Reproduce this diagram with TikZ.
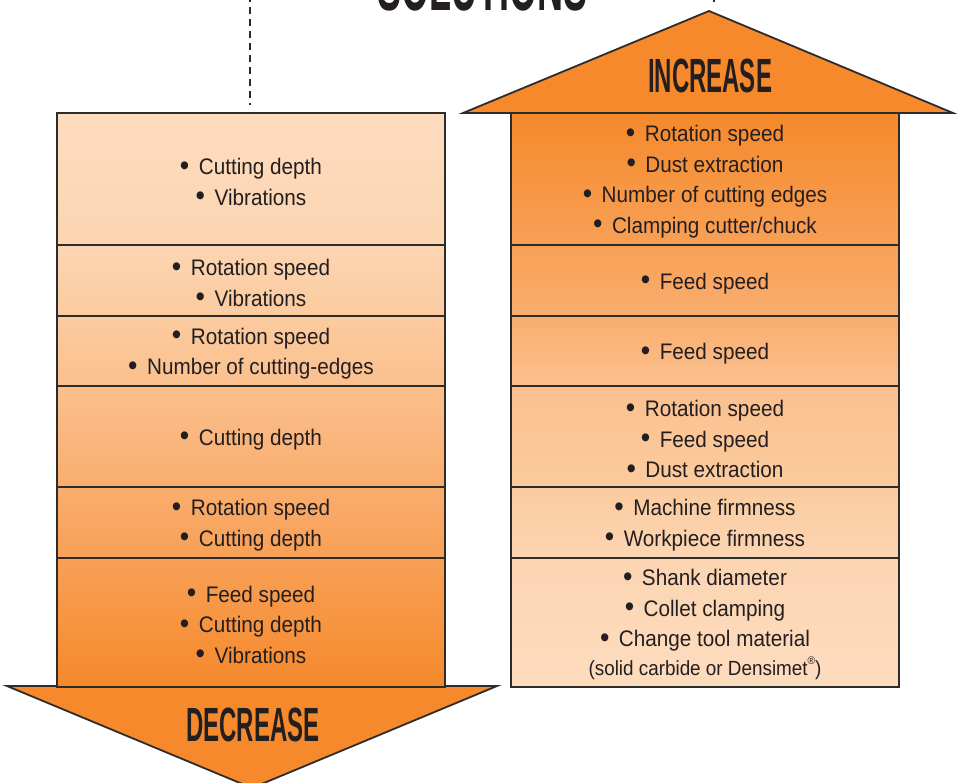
\documentclass[tikz,border=0pt]{standalone}
\usepackage{fontspec}
\usepackage{graphicx}
\setmainfont{Liberation Sans}[FakeStretch=0.92]
\newfontfamily\titlefont{Liberation Sans}[FakeStretch=0.5]
\newcommand\bul{\raisebox{-0.02em}{\scalebox{1.3}{•}}\hspace{0.42em}}
\definecolor{ink}{HTML}{231F20}
\definecolor{edge}{HTML}{2E2B2B}
\definecolor{arrowor}{HTML}{F5892B}
\definecolor{cA}{HTML}{FDDCBE}
\definecolor{cB}{HTML}{FCD5B2}
\definecolor{cC}{HTML}{FBCB9F}
\definecolor{cD}{HTML}{FBC08E}
\definecolor{cE}{HTML}{F9AD6E}
\definecolor{cF}{HTML}{F8A056}
\definecolor{cG}{HTML}{F5892B}
\tikzset{
  rowbox/.style={draw=edge, line width=1.6pt, minimum width=388pt, inner sep=0pt},
  rowtext/.style={align=center, text=ink, inner sep=0pt, font=\fontsize{22.5}{30.5}\selectfont},
  arrowhead/.style={fill=arrowor, draw=edge, line width=1.8pt, line join=miter},
  titletext/.style={text=ink, font=\titlefont\bfseries\fontsize{48}{48}\selectfont, inner sep=0pt, anchor=base},
  dashline/.style={draw=edge, line width=2pt, dash pattern=on 7pt off 5pt}
}
\begin{document}
\begin{tikzpicture}[x=1pt,y=-1pt]
\useasboundingbox (0,0) rectangle (957,783);
\clip (0,0) rectangle (957,783);
% title
\node[titletext, font=\titlefont\bfseries\fontsize{72}{72}\selectfont] (sol) at (482,11) {SOLUTIONS};
% dashed leaders
\coordinate (dl1) at (250,-5);
\coordinate (dl2) at (250,105);
\coordinate (dr1) at (714,-5);
\coordinate (dr2) at (714,5);
\draw[dashline] (dl1) -- (dl2);
\draw[dashline] (dr1) -- (dr2);
% arrow heads
\coordinate (ua1) at (463,113);
\coordinate (ua2) at (953,113);
\coordinate (ua3) at (709,11);
\draw[arrowhead] (ua1) -- (ua2) -- (ua3) -- cycle;
\coordinate (da1) at (7,686);
\coordinate (da2) at (497,686);
\coordinate (da3) at (252,788);
\draw[arrowhead] (da1) -- (da2) -- (da3) -- cycle;
\node[titletext] (inc) at (710,93) {INCREASE};
\node[titletext] (dec) at (253,741) {DECREASE};
% left column (decrease)
\node[rowbox, minimum height=132pt, top color=cA, bottom color=cB] (L1) at (251,179) {};
\node[rowbox, minimum height=71pt, top color=cB, bottom color=cC] (L2) at (251,280.5) {};
\node[rowbox, minimum height=70pt, top color=cC, bottom color=cD] (L3) at (251,351) {};
\node[rowbox, minimum height=101pt, top color=cD, bottom color=cE] (L4) at (251,436.5) {};
\node[rowbox, minimum height=71pt, top color=cE, bottom color=cF] (L5) at (251,522.5) {};
\node[rowbox, minimum height=129pt, top color=cF, bottom color=cG] (L6) at (251,622.5) {};
\node[rowtext] (L1t) at ([yshift=-3pt]L1.center) {\bul Cutting depth\\ \bul Vibrations};
\node[rowtext] (L2t) at ([yshift=-2.5pt]L2.center) {\bul Rotation speed\\ \bul Vibrations};
\node[rowtext] (L3t) at ([yshift=-2.5pt]L3.center) {\bul Rotation speed\\ \bul Number of cutting-edges};
\node[rowtext] (L4t) at ([yshift=-3pt]L4.center) {\bul Cutting depth};
\node[rowtext] (L5t) at ([yshift=-2.5pt]L5.center) {\bul Rotation speed\\ \bul Cutting depth};
\node[rowtext] (L6t) at ([yshift=-2.5pt]L6.center) {\bul Feed speed\\ \bul Cutting depth\\ \bul Vibrations};
% right column (increase)
\node[rowbox, minimum height=132pt, top color=cG, bottom color=cF] (R1) at (705,179) {};
\node[rowbox, minimum height=71pt, top color=cF, bottom color=cE] (R2) at (705,280.5) {};
\node[rowbox, minimum height=70pt, top color=cE, bottom color=cD] (R3) at (705,351) {};
\node[rowbox, minimum height=101pt, top color=cD, bottom color=cC] (R4) at (705,436.5) {};
\node[rowbox, minimum height=71pt, top color=cC, bottom color=cB] (R5) at (705,522.5) {};
\node[rowbox, minimum height=129pt, top color=cB, bottom color=cA] (R6) at (705,622.5) {};
\node[rowtext] (R1t) at ([yshift=-2.5pt]R1.center) {\bul Rotation speed\\ \bul Dust extraction\\ \bul Number of cutting edges\\ \bul Clamping cutter/chuck};
\node[rowtext] (R2t) at ([yshift=-3pt]R2.center) {\bul Feed speed};
\node[rowtext] (R3t) at ([yshift=-3pt]R3.center) {\bul Feed speed};
\node[rowtext] (R4t) at ([yshift=-3pt]R4.center) {\bul Rotation speed\\ \bul Feed speed\\ \bul Dust extraction};
\node[rowtext] (R5t) at ([yshift=-2.5pt]R5.center) {\bul Machine firmness\\ \bul Workpiece firmness};
\node[rowtext] (R6t) at ([yshift=-2pt]R6.center) {\bul Shank diameter\\ \bul Collet clamping\\ \bul Change tool material\\[-2pt] {\fontsize{20.5}{22}\selectfont (solid carbide or Densimet\raisebox{0.55em}{\fontsize{11}{11}\selectfont ®})}};
\end{tikzpicture}
\end{document}
